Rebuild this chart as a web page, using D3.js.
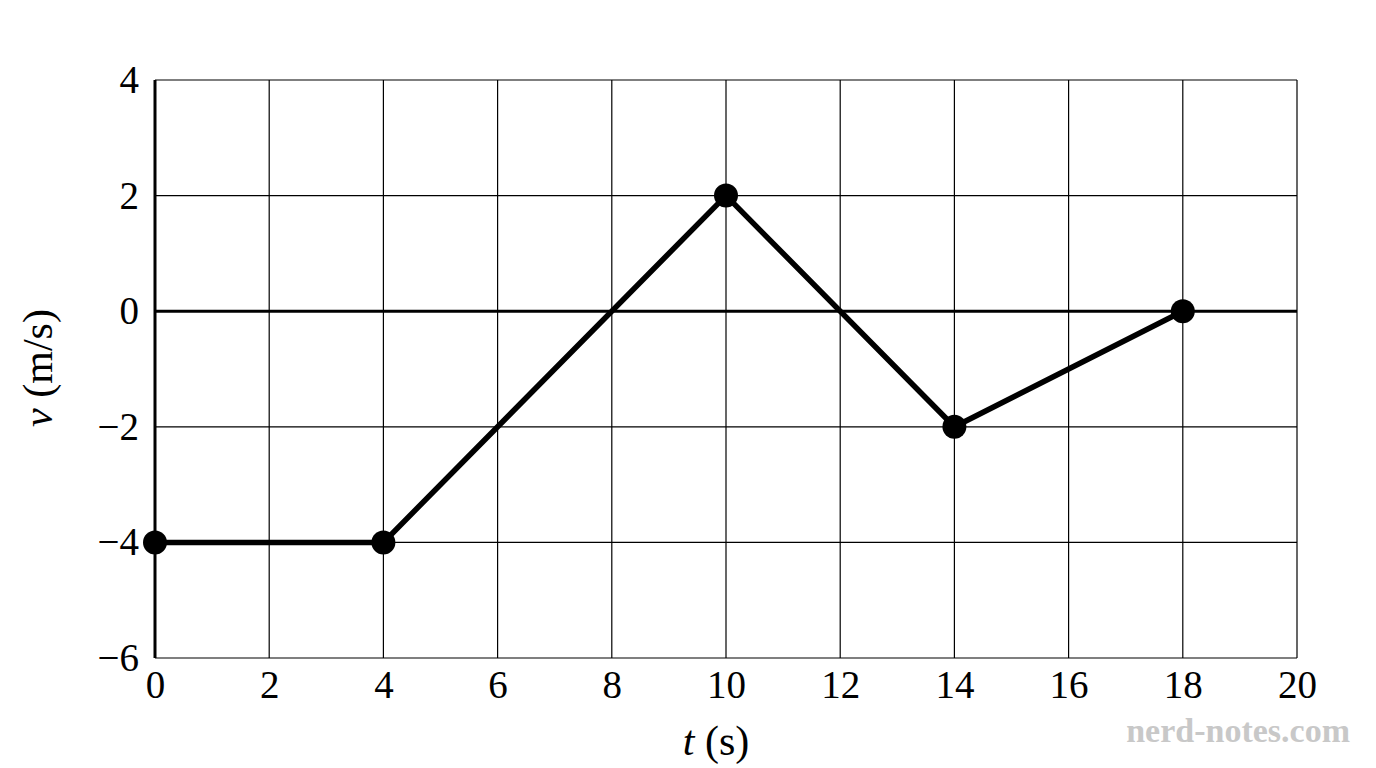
<!DOCTYPE html>
<html><head><meta charset="utf-8">
<script src="https://cdn.jsdelivr.net/npm/d3@7"></script>
<style>body{margin:0;background:#fff}</style>
</head><body>
<svg id="c" width="1376" height="768"></svg>
<script>
const times = [0, 4, 10, 14, 18];
const velocities = [-4, -4, 2, -2, 0];
const xTicks = [0,2,4,6,8,10,12,14,16,18,20];
const yTicks = [-6,-4,-2,0,2,4];

const svg = d3.select("#c");
const x = d3.scaleLinear().domain([0,20]).range([155,1297]);
const y = d3.scaleLinear().domain([-6,4]).range([658,80]);
const font = "Liberation Serif, DejaVu Serif, serif";

const g = svg.append("g");
g.selectAll(".vx").data(xTicks).enter().append("line")
 .attr("x1",d=>x(d)).attr("x2",d=>x(d)).attr("y1",y(-6)).attr("y2",y(4))
 .attr("stroke","#000").attr("stroke-width",1.2);
g.selectAll(".hy").data(yTicks).enter().append("line")
 .attr("x1",x(0)).attr("x2",x(20)).attr("y1",d=>y(d)).attr("y2",d=>y(d))
 .attr("stroke","#000").attr("stroke-width",d=>d===0?3:1.2);
g.append("line").attr("x1",x(0)).attr("x2",x(0)).attr("y1",y(-6)).attr("y2",y(4))
 .attr("stroke","#000").attr("stroke-width",3);

const xa = svg.append("g").attr("transform",`translate(0,${y(-6)})`)
 .call(d3.axisBottom(x).tickValues(xTicks).tickSize(0).tickPadding(12));
xa.select(".domain").remove();
xa.selectAll("text").attr("font-family",font).attr("font-size",39).attr("fill","#000");
const ya = svg.append("g").attr("transform",`translate(${x(0)},0)`)
 .call(d3.axisLeft(y).tickValues(yTicks).tickSize(0).tickPadding(16)
   .tickFormat(d=>d<0?"\u2212"+(-d):d));
ya.select(".domain").remove();
ya.selectAll("text").attr("font-family",font).attr("font-size",39).attr("fill","#000");

const pts = times.map((t,i)=>[t,velocities[i]]);
svg.append("path").datum(pts)
 .attr("d",d3.line().x(d=>x(d[0])).y(d=>y(d[1])))
 .attr("fill","none").attr("stroke","#000").attr("stroke-width",5.5);
svg.selectAll(".pt").data(pts).enter().append("circle")
 .attr("cx",d=>x(d[0])).attr("cy",d=>y(d[1])).attr("r",12).attr("fill","#000");

svg.append("text").attr("x",716).attr("y",755).attr("text-anchor","middle")
 .attr("font-family",font).attr("font-size",42)
 .html('<tspan font-style="italic">t</tspan> (s)');
svg.append("text").attr("transform","translate(52,368) rotate(-90)").attr("text-anchor","middle")
 .attr("font-family",font).attr("font-size",42)
 .html('<tspan font-style="italic">v</tspan> (m/s)');
svg.append("text").attr("x",1350).attr("y",742).attr("text-anchor","end")
 .attr("font-family",font).attr("font-size",34).attr("font-weight","bold")
 .attr("fill","#c8c8c8").text("nerd-notes.com");
</script>
</body></html>
